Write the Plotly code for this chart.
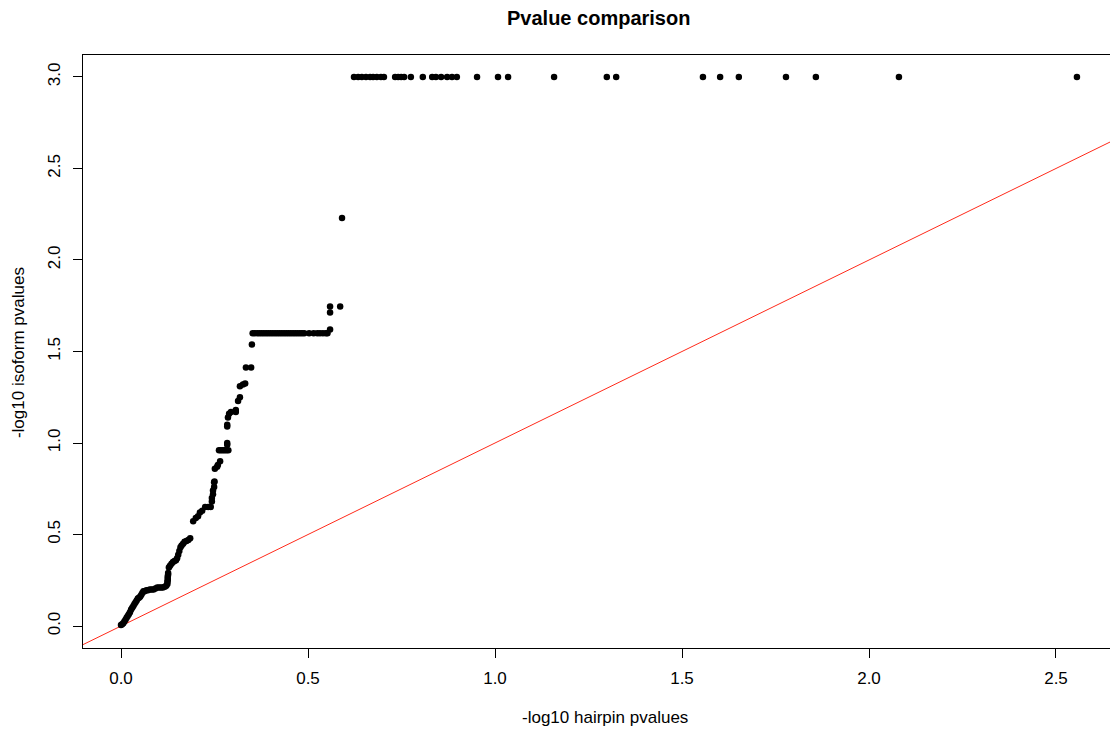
import plotly.graph_objects as go

# -log10 p-values per gene: hairpin screen vs isoform test
hairpin_low = [
    0.000, 0.003, 0.006, 0.009, 0.012, 0.015, 0.018, 0.021, 0.024, 0.027, 0.030, 0.033, 0.036,
    0.039, 0.042, 0.045, 0.048, 0.051, 0.054, 0.057, 0.060,
    0.063, 0.068, 0.072, 0.077, 0.082, 0.087, 0.092, 0.097, 0.102, 0.107, 0.112, 0.117, 0.121,
    0.124, 0.124, 0.125, 0.125, 0.125, 0.126, 0.126,
    0.128, 0.131, 0.135, 0.139, 0.143, 0.147, 0.150, 0.153, 0.156, 0.159, 0.162, 0.166, 0.170,
    0.175, 0.180, 0.185,
    0.193, 0.200, 0.206, 0.211, 0.217, 0.225, 0.233, 0.240,
    0.243, 0.243, 0.246, 0.246, 0.249, 0.249, 0.250,
    0.251, 0.257, 0.259, 0.265,
    0.262, 0.267, 0.272, 0.277, 0.282, 0.287,
    0.284, 0.284, 0.284, 0.284, 0.286, 0.289, 0.294,
    0.307, 0.307, 0.313, 0.318, 0.318, 0.326, 0.332,
    0.334, 0.348, 0.350,
]
isoform_low = [
    0.005, 0.010, 0.015, 0.025, 0.035, 0.045, 0.055, 0.065, 0.075, 0.090, 0.100, 0.110, 0.120,
    0.130, 0.140, 0.150, 0.155, 0.160, 0.170, 0.180, 0.190,
    0.190, 0.195, 0.195, 0.200, 0.200, 0.200, 0.205, 0.210, 0.210, 0.210, 0.210, 0.215, 0.220,
    0.230, 0.240, 0.250, 0.260, 0.270, 0.280, 0.290,
    0.320, 0.330, 0.340, 0.350, 0.355, 0.360, 0.370, 0.390, 0.410, 0.430, 0.440, 0.450, 0.460,
    0.465, 0.470, 0.480,
    0.573, 0.590, 0.600, 0.620, 0.630, 0.650, 0.650, 0.650,
    0.680, 0.700, 0.720, 0.740, 0.760, 0.785, 0.790,
    0.860, 0.870, 0.880, 0.900,
    0.960, 0.960, 0.960, 0.960, 0.960, 0.960,
    0.990, 1.000, 1.090, 1.100, 1.140, 1.160, 1.170,
    1.170, 1.180, 1.230, 1.250, 1.310, 1.320, 1.325,
    1.413, 1.413, 1.538,
]

hairpin_plateau = [
    0.352, 0.358, 0.364, 0.370, 0.376, 0.382, 0.388, 0.394, 0.400, 0.406, 0.412, 0.418,
    0.424, 0.430, 0.436, 0.442, 0.448, 0.454, 0.460, 0.466, 0.472, 0.478, 0.484, 0.490,
    0.503, 0.515, 0.525, 0.532, 0.540, 0.548, 0.552,
    0.559, 0.559, 0.559, 0.586, 0.591,
]
isoform_plateau = [
    1.600, 1.600, 1.600, 1.600, 1.600, 1.600, 1.600, 1.600, 1.600, 1.600, 1.600, 1.600,
    1.600, 1.600, 1.600, 1.600, 1.600, 1.600, 1.600, 1.600, 1.600, 1.600, 1.600, 1.600,
    1.600, 1.600, 1.600, 1.600, 1.600, 1.600, 1.600,
    1.620, 1.713, 1.746, 1.746, 2.230,
]

# isoform p-values capped at 0.001 (-log10 = 3)
hairpin_capped = [
    0.623, 0.634, 0.644, 0.655, 0.666, 0.674, 0.684, 0.695, 0.703,
    0.733, 0.741, 0.749, 0.757, 0.775, 0.807,
    0.832, 0.842, 0.856, 0.872, 0.885, 0.898,
    0.952, 1.008, 1.035, 1.158, 1.299, 1.324, 1.556, 1.602, 1.652,
    1.778, 1.858, 2.080, 2.556,
]
isoform_capped = [3.0] * len(hairpin_capped)

hairpin = hairpin_low + hairpin_plateau + hairpin_capped
isoform = isoform_low + isoform_plateau + isoform_capped

# identity reference line y = x
identity = [-0.5, 3.0]

x_ticks = [0.0, 0.5, 1.0, 1.5, 2.0, 2.5]
y_ticks = [0.0, 0.5, 1.0, 1.5, 2.0, 2.5, 3.0]

FONT = "Liberation Sans, Arial, Helvetica, sans-serif"

fig = go.Figure()
fig.add_trace(go.Scatter(
    x=identity, y=identity, mode="lines",
    line=dict(color="#ff2a1a", width=1), hoverinfo="skip",
))
fig.add_trace(go.Scatter(
    x=hairpin, y=isoform, mode="markers",
    marker=dict(color="black", size=6.5, line=dict(width=0)),
))

fig.update_layout(
    width=1110, height=733,
    margin=dict(l=83, r=0, t=55, b=85),
    plot_bgcolor="white", paper_bgcolor="white",
    showlegend=False,
    font=dict(family=FONT, size=17, color="black"),
    xaxis=dict(
        range=[-0.1016, 2.6444], tickvals=x_ticks,
        ticktext=[f"{v:.1f}" for v in x_ticks],
        showgrid=False, zeroline=False,
        showline=True, linecolor="black", linewidth=1, mirror=True,
        ticks="outside", ticklen=9, tickcolor="black", tickwidth=1,
        ticklabelstandoff=6,
    ),
    yaxis=dict(
        range=[-0.12, 3.12], tickvals=y_ticks,
        ticktext=[f"{v:.1f}" for v in y_ticks],
        showgrid=False, zeroline=False,
        showline=True, linecolor="black", linewidth=1,
        ticks="outside", ticklen=9, tickcolor="black", tickwidth=1,
        tickangle=-90, ticklabelstandoff=6,
    ),
    annotations=[
        dict(text="<b>Pvalue comparison</b>", xref="paper", yref="paper",
             x=0.5024, y=1.0624, xanchor="center", yanchor="middle",
             showarrow=False, font=dict(size=20, family=FONT)),
        dict(text="-log10 hairpin pvalues", xref="paper", yref="paper",
             x=0.508, y=-0.1164, xanchor="center", yanchor="middle",
             showarrow=False, font=dict(size=17, family=FONT)),
        dict(text="-log10 isoform pvalues", xref="paper", yref="paper",
             x=-0.0633, y=0.499, xanchor="center", yanchor="middle",
             textangle=-90, showarrow=False, font=dict(size=17, family=FONT)),
    ],
)

fig.write_html("out.html")
